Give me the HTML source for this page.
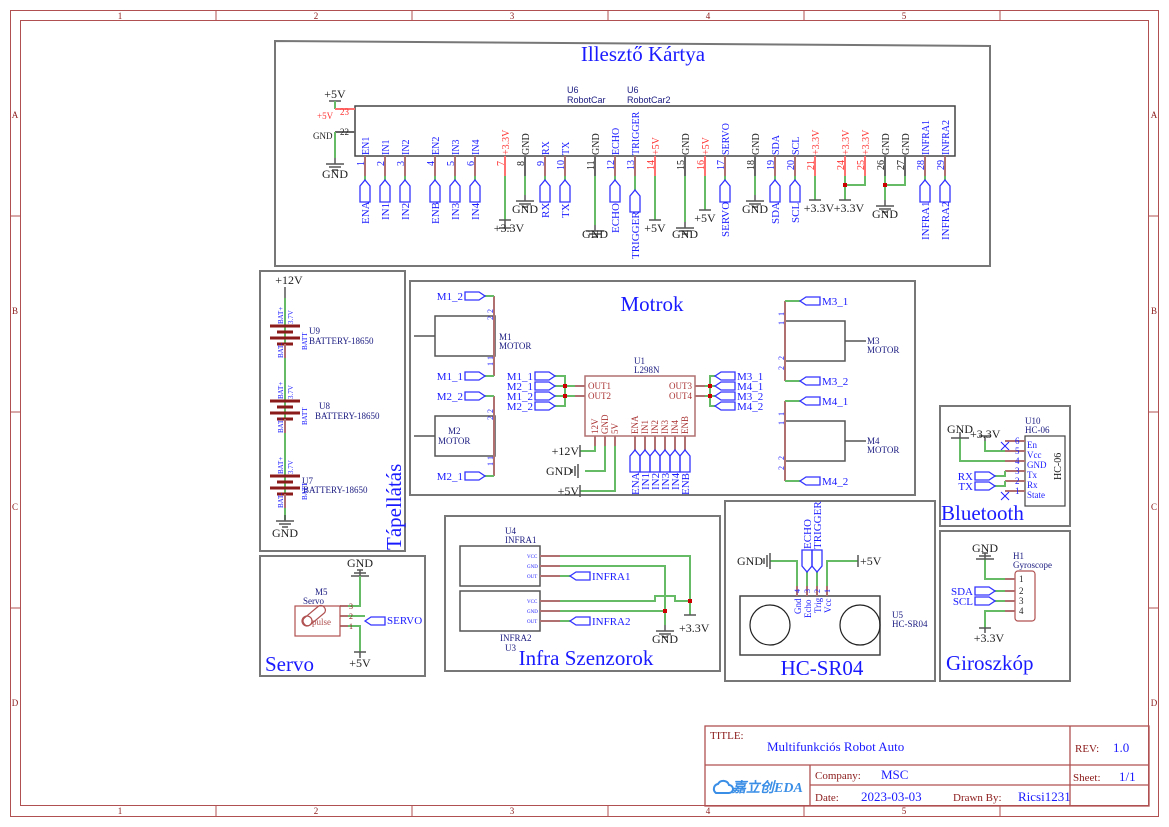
<!DOCTYPE html>
<html><head><meta charset="utf-8"><style>
body{margin:0;background:#fff}
svg{display:block}
text{font-family:"Liberation Serif",serif}
.s{font-family:"Liberation Sans","Noto Sans CJK SC",sans-serif}
.b{fill:#1a1aff}.r{fill:#ff3333}.k{fill:#222}.d{fill:#1a1a80}.m{fill:#8b1a1a}
.box{fill:none;stroke:#777;stroke-width:2}
.pin{stroke:#b07070;stroke-width:2}
.pr{stroke:#ff7070;stroke-width:2}
.pk{stroke:#666;stroke-width:2}
.w{stroke:#66bb66;stroke-width:2;fill:none}
.f{fill:none;stroke:#3333ff;stroke-width:1.3}
.g{stroke:#555;stroke-width:1.5;fill:none}
</style></head><body>
<svg width="1169" height="827" viewBox="0 0 1169 827" xmlns="http://www.w3.org/2000/svg">
<defs>
<path id="fv" d="M-5,22 V6 L0,0 L5,6 V22 Z"/>
<path id="fr" d="M0,-4 H14 L20,0 L14,4 H0 Z"/>
<path id="fl" d="M0,0 L6,-4 H20 V4 H6 Z"/>
<path id="gd" d="M0,0 V6 M-9,6 H9 M-6,9 H6 M-3,12 H3"/>
<path id="pw" d="M0,0 V-8 M-6,-8 H6"/>
</defs>
<!-- frame -->
<rect x="10.5" y="10.5" width="1148" height="806" fill="none" stroke="#b05050" stroke-width="1"/>
<rect x="20.5" y="20.5" width="1128" height="785" fill="none" stroke="#b05050" stroke-width="1"/>
<g stroke="#b05050" stroke-width="1">
<path d="M216,10V20M412,10V20M608,10V20M804,10V20M1000,10V20M216,806V817M412,806V817M608,806V817M804,806V817M1000,806V817M10,216H20M10,412H20M10,608H20M1149,216H1159M1149,412H1159M1149,608H1159"/>
</g>
<g class="m" font-size="9" text-anchor="middle">
<text x="120" y="19">1</text><text x="316" y="19">2</text><text x="512" y="19">3</text><text x="708" y="19">4</text><text x="904" y="19">5</text>
<text x="120" y="814">1</text><text x="316" y="814">2</text><text x="512" y="814">3</text><text x="708" y="814">4</text><text x="904" y="814">5</text>
<text x="15" y="118">A</text><text x="15" y="314">B</text><text x="15" y="510">C</text><text x="15" y="706">D</text>
<text x="1154" y="118">A</text><text x="1154" y="314">B</text><text x="1154" y="510">C</text><text x="1154" y="706">D</text>
</g>

<!-- ===== Illeszto kartya ===== -->
<path class="box" d="M275,41 L990,46 V266 H275 Z"/>
<text x="643" y="61" font-size="21" class="b" text-anchor="middle">Illesztő Kártya</text>
<rect x="355" y="106" width="600" height="50" fill="none" stroke="#444" stroke-width="1.5"/>
<text x="567" y="93" font-size="9" class="s d">U6</text><text x="567" y="103" font-size="9" class="s d">RobotCar</text>
<text x="627" y="93" font-size="9" class="s d">U6</text><text x="627" y="103" font-size="9" class="s d">RobotCar2</text>
<text x="335" y="98" font-size="12" class="k" text-anchor="middle">+5V</text>
<use href="#pw" x="335" y="109" class="g" transform="translate(0,0)"/>
<path class="w" d="M335,101V109"/>
<path class="pr" d="M335,109H355"/>
<text x="317" y="119" font-size="9" class="r">+5V</text><text x="340" y="115" font-size="9" class="r">23</text>
<path class="pk" d="M335,132H355"/>
<text x="313" y="139" font-size="9" class="k">GND</text><text x="340" y="135" font-size="9" class="k">22</text>
<path class="w" d="M335,132V158"/>
<use href="#gd" x="335" y="158" class="g"/>
<text x="335" y="178" font-size="12" class="k" text-anchor="middle">GND</text>

<!-- top pins -->
<g>
<path class="pin" d="M365,156V176M385,156V176M405,156V176M435,156V176M455,156V176M475,156V176M545,156V176M565,156V176M615,156V176M635,156V176M725,156V176M775,156V176M795,156V176M925,156V176M945,156V176"/>
<path class="pr" d="M505,156V176M655,156V176M705,156V176M815,156V176M845,156V176M865,156V176"/>
<path class="pk" d="M525,156V176M595,156V176M685,156V176M755,156V176M885,156V176M905,156V176"/>
<path class="w" d="M365,176V180M385,176V180M405,176V180M435,176V180M455,176V180M475,176V180M545,176V180M565,176V180M615,176V180M635,176V190M725,176V180M775,176V180M795,176V180M925,176V180M945,176V180
M505,176V220M525,176V195M595,176V225M655,176V220M685,176V222M705,176V210M755,176V195M815,176V200M845,176V200M865,176V185H845M885,176V200M905,176V185H885"/>
<g class="f">
<use href="#fv" x="365" y="180"/><use href="#fv" x="385" y="180"/><use href="#fv" x="405" y="180"/><use href="#fv" x="435" y="180"/><use href="#fv" x="455" y="180"/><use href="#fv" x="475" y="180"/><use href="#fv" x="545" y="180"/><use href="#fv" x="565" y="180"/><use href="#fv" x="615" y="180"/><use href="#fv" x="635" y="190"/><use href="#fv" x="725" y="180"/><use href="#fv" x="775" y="180"/><use href="#fv" x="795" y="180"/><use href="#fv" x="925" y="180"/><use href="#fv" x="945" y="180"/>
</g>
<g class="g">
<use href="#pw" x="505" y="228" transform="rotate(180 505 224)"/>
<path d="M499,220H511M649,220H661M809,200H821M839,200H851M699,210H711"/>
<use href="#gd" x="525" y="195"/><use href="#gd" x="595" y="225"/><use href="#gd" x="685" y="222"/><use href="#gd" x="755" y="195"/><use href="#gd" x="885" y="200"/>
</g>
<rect x="843" y="183" width="4" height="4" fill="#c00"/><rect x="883" y="183" width="4" height="4" fill="#c00"/>
<g font-size="12" class="k" text-anchor="middle">
<text x="509" y="232">+3.3V</text><text x="525" y="213">GND</text><text x="595" y="238">GND</text><text x="655" y="232">+5V</text><text x="685" y="238">GND</text><text x="705" y="222">+5V</text><text x="755" y="213">GND</text><text x="819" y="212">+3.3V</text><text x="849" y="212">+3.3V</text><text x="885" y="218">GND</text>
</g>
<!-- pin names -->
<g font-size="10">
<text transform="translate(369,155) rotate(-90)" class="b">EN1</text>
<text transform="translate(389,155) rotate(-90)" class="b">IN1</text>
<text transform="translate(409,155) rotate(-90)" class="b">IN2</text>
<text transform="translate(439,155) rotate(-90)" class="b">EN2</text>
<text transform="translate(459,155) rotate(-90)" class="b">IN3</text>
<text transform="translate(479,155) rotate(-90)" class="b">IN4</text>
<text transform="translate(509,155) rotate(-90)" class="r">+3.3V</text>
<text transform="translate(529,155) rotate(-90)" class="k">GND</text>
<text transform="translate(549,155) rotate(-90)" class="b">RX</text>
<text transform="translate(569,155) rotate(-90)" class="b">TX</text>
<text transform="translate(599,155) rotate(-90)" class="k">GND</text>
<text transform="translate(619,155) rotate(-90)" class="b">ECHO</text>
<text transform="translate(639,155) rotate(-90)" class="b">TRIGGER</text>
<text transform="translate(659,155) rotate(-90)" class="r">+5V</text>
<text transform="translate(689,155) rotate(-90)" class="k">GND</text>
<text transform="translate(709,155) rotate(-90)" class="r">+5V</text>
<text transform="translate(729,155) rotate(-90)" class="b">SERVO</text>
<text transform="translate(759,155) rotate(-90)" class="k">GND</text>
<text transform="translate(779,155) rotate(-90)" class="b">SDA</text>
<text transform="translate(799,155) rotate(-90)" class="b">SCL</text>
<text transform="translate(819,155) rotate(-90)" class="r">+3.3V</text>
<text transform="translate(849,155) rotate(-90)" class="r">+3.3V</text>
<text transform="translate(869,155) rotate(-90)" class="r">+3.3V</text>
<text transform="translate(889,155) rotate(-90)" class="k">GND</text>
<text transform="translate(909,155) rotate(-90)" class="k">GND</text>
<text transform="translate(929,155) rotate(-90)" class="b">INFRA1</text>
<text transform="translate(949,155) rotate(-90)" class="b">INFRA2</text>
</g>
<g font-size="10">
<text transform="translate(364,166) rotate(-90)" class="b">1</text><text transform="translate(384,166) rotate(-90)" class="b">2</text><text transform="translate(404,166) rotate(-90)" class="b">3</text><text transform="translate(434,166) rotate(-90)" class="b">4</text><text transform="translate(454,166) rotate(-90)" class="b">5</text><text transform="translate(474,166) rotate(-90)" class="b">6</text><text transform="translate(504,166) rotate(-90)" class="r">7</text><text transform="translate(524,166) rotate(-90)" class="k">8</text><text transform="translate(544,166) rotate(-90)" class="b">9</text><text transform="translate(564,170) rotate(-90)" class="b">10</text><text transform="translate(594,170) rotate(-90)" class="k">11</text><text transform="translate(614,170) rotate(-90)" class="b">12</text><text transform="translate(634,170) rotate(-90)" class="b">13</text><text transform="translate(654,170) rotate(-90)" class="r">14</text><text transform="translate(684,170) rotate(-90)" class="k">15</text><text transform="translate(704,170) rotate(-90)" class="r">16</text><text transform="translate(724,170) rotate(-90)" class="b">17</text><text transform="translate(754,170) rotate(-90)" class="k">18</text><text transform="translate(774,170) rotate(-90)" class="b">19</text><text transform="translate(794,170) rotate(-90)" class="b">20</text><text transform="translate(814,170) rotate(-90)" class="r">21</text><text transform="translate(844,170) rotate(-90)" class="r">24</text><text transform="translate(864,170) rotate(-90)" class="r">25</text><text transform="translate(884,170) rotate(-90)" class="k">26</text><text transform="translate(904,170) rotate(-90)" class="k">27</text><text transform="translate(924,170) rotate(-90)" class="b">28</text><text transform="translate(944,170) rotate(-90)" class="b">29</text>
</g>
<!-- net label texts -->
<g font-size="11" class="b">
<text transform="translate(369,224) rotate(-90)">ENA</text>
<text transform="translate(389,220) rotate(-90)">IN1</text>
<text transform="translate(409,220) rotate(-90)">IN2</text>
<text transform="translate(439,224) rotate(-90)">ENB</text>
<text transform="translate(459,220) rotate(-90)">IN3</text>
<text transform="translate(479,220) rotate(-90)">IN4</text>
<text transform="translate(549,218) rotate(-90)">RX</text>
<text transform="translate(569,218) rotate(-90)">TX</text>
<text transform="translate(619,233) rotate(-90)">ECHO</text>
<text transform="translate(639,259) rotate(-90)">TRIGGER</text>
<text transform="translate(729,237) rotate(-90)">SERVO</text>
<text transform="translate(779,224) rotate(-90)">SDA</text>
<text transform="translate(799,223) rotate(-90)">SCL</text>
<text transform="translate(929,240) rotate(-90)">INFRA1</text>
<text transform="translate(949,240) rotate(-90)">INFRA2</text>
</g>
</g>

<!-- ===== Motrok ===== -->
<rect x="410" y="281" width="505" height="214" class="box"/>
<text x="652" y="311" font-size="21" class="b" text-anchor="middle">Motrok</text>
<g fill="none" stroke="#555" stroke-width="1.5">
<rect x="435" y="316" width="60" height="40"/><rect x="435" y="416" width="60" height="40"/>
<rect x="785" y="321" width="60" height="40"/><rect x="785" y="421" width="60" height="40"/>
<path d="M414,336H435M414,436H435M845,341H866M845,441H866"/>
</g>
<path class="pin" d="M494,296V376M494,396V476M785,301V381M785,401V481"/>
<path class="w" d="M485,296H494M485,376H494M485,396H494M485,476H494M785,301H800M785,381H800M785,401H800M785,481H800"/>
<g class="f"><use href="#fr" x="465" y="296"/><use href="#fr" x="465" y="376"/><use href="#fr" x="465" y="396"/><use href="#fr" x="465" y="476"/>
<use href="#fl" x="800" y="301"/><use href="#fl" x="800" y="381"/><use href="#fl" x="800" y="401"/><use href="#fl" x="800" y="481"/></g>
<g font-size="11" class="b">
<text x="463" y="300" text-anchor="end">M1_2</text><text x="463" y="380" text-anchor="end">M1_1</text><text x="463" y="400" text-anchor="end">M2_2</text><text x="463" y="480" text-anchor="end">M2_1</text>
<text x="822" y="305">M3_1</text><text x="822" y="385">M3_2</text><text x="822" y="405">M4_1</text><text x="822" y="485">M4_2</text>
</g>
<g font-size="9" class="s d">
<text x="499" y="340">M1</text><text x="499" y="349">MOTOR</text>
<text x="448" y="434">M2</text><text x="438" y="444">MOTOR</text>
<text x="867" y="344">M3</text><text x="867" y="353">MOTOR</text>
<text x="867" y="444">M4</text><text x="867" y="453">MOTOR</text>
<text x="634" y="364">U1</text><text x="634" y="373">L298N</text>
</g>
<rect x="585" y="376" width="110" height="60" fill="none" stroke="#b07070" stroke-width="1.5"/>
<g font-size="9" fill="#a33">
<text x="588" y="389">OUT1</text><text x="588" y="399">OUT2</text>
<text x="692" y="389" text-anchor="end">OUT3</text><text x="692" y="399" text-anchor="end">OUT4</text>
<text transform="translate(598,434) rotate(-90)">12V</text><text transform="translate(608,434) rotate(-90)">GND</text><text transform="translate(618,434) rotate(-90)">5V</text>
<text transform="translate(638,434) rotate(-90)">ENA</text><text transform="translate(648,434) rotate(-90)">IN1</text><text transform="translate(658,434) rotate(-90)">IN2</text><text transform="translate(668,434) rotate(-90)">IN3</text><text transform="translate(678,434) rotate(-90)">IN4</text><text transform="translate(688,434) rotate(-90)">ENB</text>
</g>
<path class="pin" d="M575,386H585M575,396H585M695,386H705M695,396H705M595,436V446M605,436V446M615,436V446M635,436V446M645,436V446M655,436V446M665,436V446M675,436V446M685,436V446"/>
<path class="w" d="M555,376H565V406H555M555,386H575M555,396H575M715,376H710V406H715M715,386H705M715,396H705M595,446V451H580M605,446V471H585M615,446V491H580"/>
<rect x="563" y="384" width="4" height="4" fill="#c00"/><rect x="563" y="394" width="4" height="4" fill="#c00"/><rect x="708" y="384" width="4" height="4" fill="#c00"/><rect x="708" y="394" width="4" height="4" fill="#c00"/>
<g class="f"><use href="#fr" x="535" y="376"/><use href="#fr" x="535" y="386"/><use href="#fr" x="535" y="396"/><use href="#fr" x="535" y="406"/>
<use href="#fl" x="715" y="376"/><use href="#fl" x="715" y="386"/><use href="#fl" x="715" y="396"/><use href="#fl" x="715" y="406"/></g>
<g font-size="11" class="b">
<text x="533" y="380" text-anchor="end">M1_1</text><text x="533" y="390" text-anchor="end">M2_1</text><text x="533" y="400" text-anchor="end">M1_2</text><text x="533" y="410" text-anchor="end">M2_2</text>
<text x="737" y="380">M3_1</text><text x="737" y="390">M4_1</text><text x="737" y="400">M3_2</text><text x="737" y="410">M4_2</text>
</g>
<path class="pin" d="M635,446V451M645,446V451M655,446V451M665,446V451M675,446V451M685,446V451"/>
<g class="f"><use href="#fv" x="635" y="450"/><use href="#fv" x="645" y="450"/><use href="#fv" x="655" y="450"/><use href="#fv" x="665" y="450"/><use href="#fv" x="675" y="450"/><use href="#fv" x="685" y="450"/></g>
<g font-size="11" class="b">
<text transform="translate(639,495) rotate(-90)">ENA</text><text transform="translate(649,490) rotate(-90)">IN1</text><text transform="translate(659,490) rotate(-90)">IN2</text><text transform="translate(669,490) rotate(-90)">IN3</text><text transform="translate(679,490) rotate(-90)">IN4</text><text transform="translate(689,495) rotate(-90)">ENB</text>
</g>
<path class="g" d="M580,445V457M580,485V497M578,464V478M575,466V476M572,469V473"/>
<g font-size="12" class="k">
<text x="579" y="455" text-anchor="end">+12V</text><text x="572" y="475" text-anchor="end">GND</text><text x="579" y="495" text-anchor="end">+5V</text>
</g>
<g font-size="8" class="b">
<text transform="translate(493,313) rotate(-90)">2</text><text transform="translate(493,320) rotate(-90)">2</text><text transform="translate(493,360) rotate(-90)">1</text><text transform="translate(493,366) rotate(-90)">1</text>
<text transform="translate(493,413) rotate(-90)">2</text><text transform="translate(493,420) rotate(-90)">2</text><text transform="translate(493,460) rotate(-90)">1</text><text transform="translate(493,466) rotate(-90)">1</text>
<text transform="translate(784,316) rotate(-90)">1</text><text transform="translate(784,325) rotate(-90)">1</text><text transform="translate(784,360) rotate(-90)">2</text><text transform="translate(784,370) rotate(-90)">2</text>
<text transform="translate(784,416) rotate(-90)">1</text><text transform="translate(784,425) rotate(-90)">1</text><text transform="translate(784,460) rotate(-90)">2</text><text transform="translate(784,470) rotate(-90)">2</text>
</g>

<!-- ===== Tapellatas ===== -->
<rect x="260" y="271" width="145" height="280" class="box"/>
<text x="289" y="284" font-size="12" class="k" text-anchor="middle">+12V</text>
<path class="g" d="M285,287V298"/>
<path class="w" d="M285,298V520"/>
<g stroke="#8b1a1a" stroke-width="3">
<path d="M270,326H300M277,332H293M270,338H300M277,344H293"/>
<path d="M270,401H300M277,407H293M270,413H300M277,419H293"/>
<path d="M270,476H300M277,482H293M270,488H300M277,494H293"/>
</g>
<path class="pin" d="M285,344V358M285,419V433M285,494V508"/>
<use href="#gd" x="285" y="515" class="g"/>
<text x="285" y="537" font-size="12" class="k" text-anchor="middle">GND</text>
<g font-size="9" class="s d">
<text x="309" y="334">U9</text><text x="309" y="344">BATTERY-18650</text>
<text x="319" y="409">U8</text><text x="315" y="419">BATTERY-18650</text>
<text x="302" y="484">U7</text><text x="303" y="493">BATTERY-18650</text>
</g>
<g font-size="7" class="b">
<text transform="translate(283,324) rotate(-90)">BAT+</text><text transform="translate(293,324) rotate(-90)">3.7V</text><text transform="translate(283,358) rotate(-90)">BAT-</text><text transform="translate(307,350) rotate(-90)">BATT</text>
<text transform="translate(283,399) rotate(-90)">BAT+</text><text transform="translate(293,399) rotate(-90)">3.7V</text><text transform="translate(283,433) rotate(-90)">BAT-</text><text transform="translate(307,425) rotate(-90)">BATT</text>
<text transform="translate(283,474) rotate(-90)">BAT+</text><text transform="translate(293,474) rotate(-90)">3.7V</text><text transform="translate(283,508) rotate(-90)">BAT-</text><text transform="translate(307,500) rotate(-90)">BATT</text>
</g>
<text transform="translate(401,550) rotate(-90)" font-size="21" class="b">Tápellátás</text>

<!-- ===== Servo ===== -->
<rect x="260" y="556" width="165" height="120" class="box"/>
<text x="360" y="567" font-size="12" class="k" text-anchor="middle">GND</text>
<path class="g" d="M360,570V576M351,576H369M354,573H366M357,570H363"/>
<path class="w" d="M360,576V606H348M348,616H365M348,626H360V652"/>
<path class="pin" d="M340,606H348M340,616H348M340,626H348"/>
<path class="g" d="M354,652H366M360,652V658"/>
<use href="#fl" x="365" y="621" class="f"/>
<text x="387" y="624" font-size="11" class="b">SERVO</text>
<text x="360" y="667" font-size="12" class="k" text-anchor="middle">+5V</text>
<rect x="295" y="606" width="45" height="30" fill="none" stroke="#b05050" stroke-width="1.2"/>
<g transform="translate(307,621) rotate(-40)" fill="none" stroke="#b05050" stroke-width="1.2"><rect x="-4" y="-4" width="26" height="9" rx="4"/><circle cx="0" cy="0" r="5"/></g>
<text x="312" y="625" font-size="9" fill="#b05050" font-family="Liberation Mono,monospace">pulse</text>
<g font-size="8" fill="#8b1a1a"><text x="349" y="609">3</text><text x="349" y="619">2</text><text x="349" y="629">1</text></g>
<g font-size="9" class="s d"><text x="315" y="595">M5</text><text x="303" y="604">Servo</text></g>
<text x="265" y="671" font-size="21" class="b">Servo</text>

<!-- ===== Infra ===== -->
<rect x="445" y="516" width="275" height="155" class="box"/>
<g fill="none" stroke="#555" stroke-width="1.5"><rect x="460" y="546" width="80" height="40"/><rect x="460" y="591" width="80" height="40"/></g>
<path class="pin" d="M540,556H560M540,566H560M540,576H560M540,601H560M540,611H560M540,621H560"/>
<path class="w" d="M560,556H690V615M560,566H665V625M560,576H570M560,621H570M560,601H655V596H675V601H690M560,611H665"/>
<rect x="688" y="599" width="4" height="4" fill="#c00"/><rect x="663" y="609" width="4" height="4" fill="#c00"/>
<use href="#gd" x="665" y="625" class="g"/>
<path class="g" d="M684,615H696"/>
<g class="f"><use href="#fl" x="570" y="576"/><use href="#fl" x="570" y="621"/></g>
<g font-size="11" class="b"><text x="592" y="580">INFRA1</text><text x="592" y="625">INFRA2</text></g>
<g font-size="12" class="k"><text x="665" y="643" text-anchor="middle">GND</text><text x="679" y="632">+3.3V</text></g>
<g font-size="5" class="b"><text x="527" y="558">VCC</text><text x="527" y="568">GND</text><text x="527" y="578">OUT</text><text x="527" y="603">VCC</text><text x="527" y="613">GND</text><text x="527" y="623">OUT</text></g>
<g font-size="9" class="s d"><text x="505" y="534">U4</text><text x="505" y="543">INFRA1</text><text x="500" y="641">INFRA2</text><text x="505" y="651">U3</text></g>
<text x="586" y="665" font-size="21" class="b" text-anchor="middle">Infra Szenzorok</text>

<!-- ===== HC-SR04 ===== -->
<rect x="725" y="501" width="210" height="180" class="box"/>
<rect x="740" y="596" width="140" height="59" fill="none" stroke="#444" stroke-width="1.5"/>
<circle cx="770" cy="625" r="20" fill="none" stroke="#222" stroke-width="1.2"/>
<circle cx="860" cy="625" r="20" fill="none" stroke="#222" stroke-width="1.2"/>
<path class="pin" d="M797,586V596M807,586V596M817,586V596M827,586V596"/>
<path class="w" d="M797,586V561H770M807,586V572M817,586V572M827,586V561H858"/>
<path class="g" d="M770,553V569M767,555V567M764,558V564M858,555V567"/>
<g class="f"><path d="M802,550V566L807,572L812,566V550Z"/><path d="M812,550V566L817,572L822,566V550Z"/></g>
<g font-size="11" class="b"><text transform="translate(811,549) rotate(-90)">ECHO</text><text transform="translate(821,549) rotate(-90)">TRIGGER</text></g>
<g font-size="12" class="k"><text x="737" y="565">GND</text><text x="860" y="565">+5V</text></g>
<g font-size="8" class="b"><text transform="translate(800,593) rotate(-90)">4</text><text transform="translate(810,593) rotate(-90)">3</text><text transform="translate(820,593) rotate(-90)">2</text><text transform="translate(830,593) rotate(-90)">1</text></g>
<g font-size="9" class="b"><text transform="translate(801,614) rotate(-90)">Gnd</text><text transform="translate(811,618) rotate(-90)">Echo</text><text transform="translate(821,613) rotate(-90)">Trig</text><text transform="translate(831,613) rotate(-90)">Vcc</text></g>
<g font-size="9" class="s d"><text x="892" y="618">U5</text><text x="892" y="627">HC-SR04</text></g>
<text x="822" y="675" font-size="21" class="b" text-anchor="middle">HC-SR04</text>

<!-- ===== Bluetooth ===== -->
<rect x="940" y="406" width="130" height="120" class="box"/>
<rect x="1025" y="436" width="40" height="70" fill="none" stroke="#444" stroke-width="1.2"/>
<path class="pin" d="M1005,441H1025M1005,451H1025M1005,461H1025M1005,471H1025M1005,481H1025M1005,491H1025"/>
<path class="w" d="M960,438V461H1005M985,441V451H1005M995,476H1005V471M995,486H1005V481"/>
<path class="g" d="M960,432V438M951,438H969M985,436V441M979,436H991"/>
<path d="M1001,442L1009,450M1009,442L1001,450M1001,492L1009,500M1009,492L1001,500" stroke="#22f" stroke-width="1"/>
<g class="f"><use href="#fr" x="975" y="476"/><use href="#fr" x="975" y="486"/></g>
<g font-size="11" class="b"><text x="973" y="480" text-anchor="end">RX</text><text x="973" y="490" text-anchor="end">TX</text></g>
<g font-size="12" class="k"><text x="947" y="433">GND</text><text x="970" y="438">+3.3V</text></g>
<g font-size="9" class="b"><text x="1015" y="444">6</text><text x="1015" y="454">5</text><text x="1015" y="464">4</text><text x="1015" y="474">3</text><text x="1015" y="484">2</text><text x="1015" y="494">1</text>
<text x="1027" y="448">En</text><text x="1027" y="458">Vcc</text><text x="1027" y="468">GND</text><text x="1027" y="478">Tx</text><text x="1027" y="488">Rx</text><text x="1027" y="498">State</text></g>
<text transform="translate(1061,480) rotate(-90)" font-size="10" class="k">HC-06</text>
<g font-size="9" class="s d"><text x="1025" y="424">U10</text><text x="1025" y="433">HC-06</text></g>
<text x="941" y="520" font-size="21" class="b">Bluetooth</text>

<!-- ===== Giroszkop ===== -->
<rect x="940" y="531" width="130" height="150" class="box"/>
<rect x="1015" y="571" width="20" height="50" rx="3" fill="none" stroke="#b05050" stroke-width="1.2"/>
<path class="pin" d="M1005,579H1015M1005,591H1015M1005,601H1015M1005,611H1015"/>
<path class="w" d="M985,559V579H1005M995,591H1005M995,601H1005M1005,611H985V628"/>
<path class="g" d="M985,553V559M976,559H994M979,556H991M982,553H988M979,628H991M985,628V633"/>
<g class="f"><use href="#fr" x="975" y="591"/><use href="#fr" x="975" y="601"/></g>
<g font-size="11" class="b"><text x="973" y="595" text-anchor="end">SDA</text><text x="973" y="605" text-anchor="end">SCL</text></g>
<g font-size="12" class="k"><text x="985" y="552" text-anchor="middle">GND</text><text x="989" y="642" text-anchor="middle">+3.3V</text></g>
<g font-size="9" class="k"><text x="1019" y="582">1</text><text x="1019" y="594">2</text><text x="1019" y="604">3</text><text x="1019" y="614">4</text></g>
<g font-size="9" class="s d"><text x="1013" y="559">H1</text><text x="1013" y="568">Gyroscope</text></g>
<text x="946" y="670" font-size="21" class="b">Giroszkóp</text>

<!-- ===== Title block ===== -->
<g fill="none" stroke="#b05050" stroke-width="1.3">
<rect x="705" y="726" width="444" height="80"/>
<path d="M705,765H1149M810,765V806M810,785H1070M1070,726V806M1070,785H1149"/>
</g>
<g font-size="11" class="m">
<text x="710" y="739">TITLE:</text><text x="1075" y="752">REV:</text><text x="815" y="779">Company:</text><text x="1073" y="781">Sheet:</text>
<text x="815" y="801">Date:</text><text x="953" y="801">Drawn By:</text>
</g>
<g font-size="13" class="b">
<text x="767" y="751">Multifunkciós Robot Auto</text><text x="1113" y="752">1.0</text><text x="881" y="779">MSC</text><text x="1119" y="781">1/1</text>
<text x="861" y="801">2023-03-03</text><text x="1018" y="801">Ricsi1231</text>
</g>
<path d="M716,793 a5,5 0 0 1 2,-9 a6,6 0 0 1 11,1 a4,4 0 0 1 0,8 Z" fill="none" stroke="#3a8ee6" stroke-width="2"/>
<text x="732" y="792" font-size="14" font-weight="bold" font-style="italic" fill="#3a8ee6" font-family="Liberation Sans,Noto Sans CJK SC,sans-serif">嘉立创EDA</text>
</svg>
</body></html>
